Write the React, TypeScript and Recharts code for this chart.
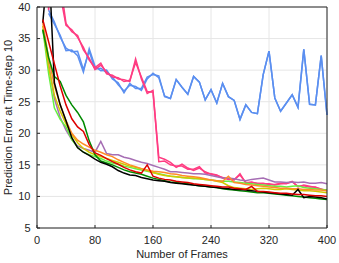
import { LineChart, Line, XAxis, YAxis, CartesianGrid, Label } from 'recharts';

const FRAMES = [
  8, 16, 24, 32, 40, 48, 56, 64, 72, 80,
  88, 96, 104, 112, 120, 128, 136, 144, 152, 160,
  168, 176, 184, 192, 200, 208, 216, 224, 232, 240,
  248, 256, 264, 272, 280, 288, 296, 304, 312, 320,
  328, 336, 344, 352, 360, 368, 376, 384, 392, 400,
];

const X_TICKS = [0, 80, 160, 240, 320, 400];
const Y_TICKS = [5, 10, 15, 20, 25, 30, 35, 40];

const BLUE_A = [
  null, 39, 37.3, 35.5, 33.1, 33.2, 32.3, 29.7, 33.4, 30.6,
  29.9, 30, 28.6, 28, 26.4, 27.9, 27.1, 27.1, 28.9, 29.3,
  29.1, 25.8, 25.5, 28.5, 27.3, 26.2, 29, 28.1, 25.3, 26.9,
  24.8, 27.9, 25.8, 25.2, 22.2, 24.5, 23.3, 23.1, 29.3, 33,
  25.6, 23.5, 24.8, 26.1, 24.1, 33.3, 24.6, 24.5, 32.3, 22.9,
];
const BLUE_B = [
  null, 39.5, 37.6, 35.2, 33.5, 32.9, 33, 30.1, 33, 30.2,
  30.3, 29.6, 28.9, 27.7, 26.7, 27.6, 27.4, 26.8, 28.6, 29.5,
  28.8, 25.9, 25.5, 28.5, 27.3, 26.2, 29, 28.1, 25.3, 26.9,
  24.8, 27.9, 25.8, 25.2, 22.2, 24.5, 23.3, 23.1, 29.3, 33,
  25.6, 23.5, 24.8, 26.1, 24.1, 33.3, 24.6, 24.5, 32.3, 22.9,
];
const PINK_A = [
  60, 39.5, 48, 42, 37.1, 36.4, 35.2, 33.6, 31.6, 30.4,
  31.1, 29.4, 29.2, 28.6, 28.5, 28.2, 31.8, 28.6, 26.3, 26.8,
  15.5, 15.6, 15, 14.8, 14.8, 14.3, 14.3, 14.7, 13.7, 13.6,
  13.4, 12.9, 12.8, 12.6, 13.6, 12.1, 12.3, 12, 12.1, 11.9,
  11.9, 12.1, 12, 12.4, 11.5, 11.8, 11.6, 11.4, 11.2, 10.9,
];
const PINK_B = [
  null, null, 55, 44, 37.4, 36.1, 35.5, 33.2, 31.9, 30.1,
  30.8, 29.7, 28.9, 28.8, 28.2, 28.4, 31.2, 28.9, 26.6, 26.5,
  16.2, 15.9, 15.4, 14.6, 15.1, 14.5, 14.1, 14.5, 13.9, 13.5,
  13.3, 13, 12.7, 12.7, 13.4, 12.2, 12.2, 12.1, 12, 12,
  11.8, 12, 12.1, 12.3, 11.6, 11.7, 11.5, 11.5, 11.1, 11,
];
const PURPLE = [
  36.5, 31, 25.5, 22.5, 20.5, 19, 18, 17.6, 17.3, 17,
  18.7, 16.8, 16.6, 16.6, 16.2, 16, 15.7, 15.4, 15.2, 14.9,
  14.6, 14.3, 13.9, 13.9, 13.8, 13.7, 13.6, 13.6, 13.5, 13.3,
  13.1, 12.9, 12.9, 12.8, 12.6, 12.5, 12.7, 12.8, 12.9, 12.6,
  12.3, 12.3, 12.2, 12.3, 12.2, 12.3, 12.1, 12.1, 12.2, 12,
];
const LIGHT_GREEN = [
  36.5, 29.5, 24, 22.2, 21, 19, 17.8, 17, 16.6, 16.3,
  16, 15.6, 15.3, 15.1, 14.8, 14.6, 14.4, 14.2, 14, 13.8,
  13.6, 13.4, 13.2, 13.1, 13, 12.9, 12.8, 12.8, 12.7, 12.6,
  12.5, 12.4, 12.4, 12.3, 12.2, 12.1, 12, 11.9, 11.8, 11.7,
  11.6, 11.6, 11.5, 11.6, 11.7, 11.4, 11.3, 11.2, 11.1, 11,
];
const YELLOW = [
  37, 30.5, 26, 23.5, 21.5, 19.8, 18.5, 17.6, 17, 16.6,
  16.3, 16, 15.7, 15.4, 15.1, 14.8, 14.6, 14.4, 14.1, 13.8,
  13.5, 13.3, 13.2, 13.1, 13, 12.9, 12.9, 12.8, 12.7, 12.6,
  12.4, 12.2, 11.7, 11.4, 11.3, 11.2, 11.1, 11.2, 11.3, 11.2,
  11.1, 11.1, 11.2, 11.1, 11, 10.9, 10.9, 10.8, 10.7, 10.6,
];
const ORANGE = [
  37.5, 32, 27.5, 24.5, 22, 20, 18.9, 18.3, 17.8, 17.3,
  17, 16.6, 16.3, 15.8, 15.4, 15, 14.7, 14.4, 14.2, 14,
  13.9, 13.8, 13.6, 13.5, 13.3, 13.2, 13.1, 13, 12.8, 12.6,
  12.5, 12.4, 13.2, 12.2, 12.1, 11.9, 11.8, 11.7, 11.6, 11.5,
  11.4, 11.3, 11.3, 11.2, 11.2, 11.1, 11.1, 11, 11, 10.9,
];
const DARK_GREEN = [
  36.4, 32, 29, 28.2, 26, 24.5, 23.3, 21.8, 18.8, 16.6,
  15.6, 15.3, 15, 14.6, 14.2, 13.9, 13.7, 13.5, 13.2, 12.9,
  12.7, 12.5, 12.3, 12.2, 12.1, 12, 11.8, 11.7, 11.6, 11.5,
  11.4, 11.2, 11.1, 11, 10.9, 10.8, 10.7, 10.6, 10.6, 10.5,
  10.4, 10.3, 10.2, 10.1, 10, 9.9, 9.8, 9.7, 9.6, 9.5,
];
const BLACK = [
  37.5, 48, 28, 24.5, 22, 19.3, 17.7, 17, 16.5, 15.9,
  15.4, 15.1, 14.7, 14.1, 13.7, 13.4, 13.3, 13, 12.8, 12.6,
  12.5, 12.4, 12.2, 12.1, 12, 11.9, 11.8, 11.7, 11.6, 11.5,
  11.4, 11.3, 11.2, 11.1, 11.1, 11, 10.9, 10.8, 10.7, 10.6,
  10.5, 10.4, 10.3, 10.2, 11.1, 9.8, 10, 9.9, 9.8, 9.6,
];
const RED = [
  38, 34.5, 31, 27.5, 24.5, 22.3, 21, 20.3, 18.2, 16.9,
  16.5, 16, 15.5, 15.1, 14.6, 14.2, 13.9, 13.7, 15, 13.2,
  12.9, 12.7, 12.6, 12.4, 12.3, 12.2, 12, 11.9, 11.8, 11.7,
  11.6, 11.5, 11.5, 11.3, 11.2, 11.1, 11.6, 10.8, 10.8, 10.7,
  10.6, 10.5, 10.5, 10.4, 10.3, 10.3, 10.2, 10.1, 10.1, 10,
];

// drawing order: later entries sit on top
const SERIES = [
  { key: 'blueB', values: BLUE_B, color: '#5b8ff0' },
  { key: 'blueA', values: BLUE_A, color: '#5b8ff0' },
  { key: 'pinkB', values: PINK_B, color: '#ff3c82' },
  { key: 'pinkA', values: PINK_A, color: '#ff3c82' },
  { key: 'purple', values: PURPLE, color: '#a66eb4' },
  { key: 'lightGreen', values: LIGHT_GREEN, color: '#66f040' },
  { key: 'yellow', values: YELLOW, color: '#d2c800' },
  { key: 'orange', values: ORANGE, color: '#ff8c28' },
  { key: 'darkGreen', values: DARK_GREEN, color: '#008a00' },
  { key: 'black', values: BLACK, color: '#000000' },
  { key: 'red', values: RED, color: '#dd0000' },
];

const chartData = FRAMES.map((frame, i) => {
  const row: Record<string, number | null> = { frame };
  SERIES.forEach((s) => {
    row[s.key] = s.values[i];
  });
  return row;
});

const AXIS = '#262626';
const tickStyle = { fontSize: 11, fill: AXIS };

export default function App() {
  return (
    <div style={{ position: 'absolute', left: 0, top: 0, fontFamily: '"Liberation Sans", Arial, sans-serif' }}>
      <LineChart width={339} height={263} data={chartData} margin={{ top: 0, right: 0, bottom: 0, left: 0 }}>
        <CartesianGrid stroke="#e6e6e6" />
        <XAxis
          dataKey="frame"
          type="number"
          domain={[0, 400]}
          ticks={X_TICKS}
          height={35}
          stroke={AXIS}
          tick={tickStyle}
          tickSize={-3}
          tickMargin={11}
        >
          <Label value="Number of Frames" position="insideBottom" offset={5} fontSize={11} fill={AXIS} />
        </XAxis>
        <XAxis
          xAxisId="top"
          orientation="top"
          type="number"
          domain={[0, 400]}
          ticks={X_TICKS}
          height={7}
          stroke={AXIS}
          tick={false}
          tickSize={-3}
        />
        <YAxis
          type="number"
          domain={[5, 40]}
          ticks={Y_TICKS}
          allowDataOverflow
          width={37}
          stroke={AXIS}
          tick={tickStyle}
          tickSize={-3}
          tickMargin={9.5}
        >
          <Label
            value="Prediction Error at Time-step 10"
            angle={-90}
            position="insideLeft"
            offset={8.5}
            fontSize={11}
            fill={AXIS}
            style={{ textAnchor: 'middle' }}
          />
        </YAxis>
        <YAxis
          yAxisId="right"
          orientation="right"
          type="number"
          domain={[5, 40]}
          ticks={Y_TICKS}
          width={12}
          stroke={AXIS}
          tick={false}
          tickSize={-3}
        />
        {SERIES.map((s) => (
          <Line
            key={s.key}
            type="linear"
            dataKey={s.key}
            stroke={s.color}
            strokeWidth={1.5}
            dot={false}
            activeDot={false}
            isAnimationActive={false}
          />
        ))}
      </LineChart>
    </div>
  );
}
